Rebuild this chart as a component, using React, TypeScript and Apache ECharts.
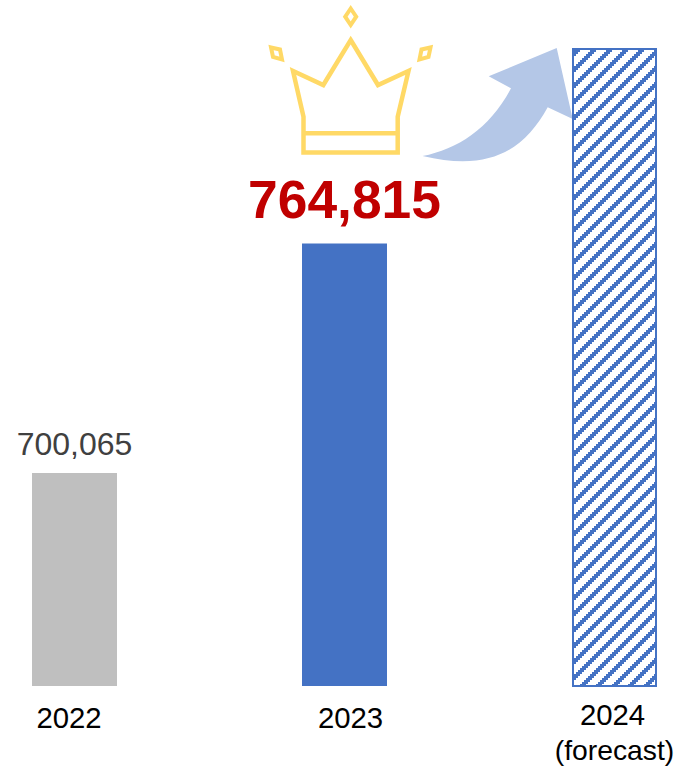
import React, { useEffect, useRef } from "react";
import * as echarts from "echarts";

const categories = ["2022", "2023", "2024\n(forecast)"];
const salesValues = [700065, 764815, 820000];
const axisMin = 640000;
const axisMax = 820000;

const GOLD = "#FFD966";
const ARROW = "#B4C7E7";
const BLUE = "#4472C4";
const FONT = '"Liberation Sans", Arial, sans-serif';

// Curved arrow rising from the crown towards the forecast bar.
const ARROW_PATH =
  "M422.5 156 C458 149 490 128 511 88.3 L488.7 76.3 L556.7 48 L572.7 119 L547.7 107.3 C524 150 490 172 422.5 156 Z";
echarts.graphic.registerShape("risingArrow", (echarts.graphic as any).extendPath(ARROW_PATH, {}));

// Diagonal staircase hatching used by the forecast bar.
function makeHatch(): HTMLCanvasElement {
  const size = 16;
  const block = 2;
  const canvas = document.createElement("canvas");
  canvas.width = size;
  canvas.height = size;
  const ctx = canvas.getContext("2d")!;
  ctx.fillStyle = "#FFFFFF";
  ctx.fillRect(0, 0, size, size);
  ctx.fillStyle = BLUE;
  const steps = size / block;
  for (let i = 0; i < steps; i++) {
    for (let j = 0; j < steps; j++) {
      if ((i + j) % steps < 3) ctx.fillRect(i * block, j * block, block, block);
    }
  }
  return canvas;
}

function crownGraphics() {
  const line = { stroke: GOLD, lineWidth: 4.5, fill: "none", lineJoin: "miter" as const };
  const thin = { stroke: GOLD, lineWidth: 4, fill: "none", lineJoin: "miter" as const };
  return [
    {
      type: "polygon",
      shape: {
        points: [
          [350.7, 40], [378, 85], [408.5, 71], [397.7, 116.7], [397.7, 152.5],
          [303.5, 152.5], [303.5, 116.7], [293, 71], [323.3, 85],
        ],
      },
      style: line,
    },
    { type: "line", shape: { x1: 303.5, y1: 133.3, x2: 397.7, y2: 133.3 }, style: line },
    {
      type: "polygon",
      shape: { points: [[350.7, 8.5], [356.2, 16.7], [350.7, 25], [345.2, 16.7]] },
      style: thin,
    },
    {
      type: "polygon",
      shape: { points: [[271, 47.5], [280, 49.5], [282, 59.5], [273, 57]] },
      style: thin,
    },
    {
      type: "polygon",
      shape: { points: [[430.5, 47.5], [428.5, 57], [419.5, 59.5], [421.5, 49.5]] },
      style: thin,
    },
    { type: "risingArrow", style: { fill: ARROW } },
  ];
}

export default function App() {
  const ref = useRef<HTMLDivElement>(null);

  useEffect(() => {
    const chart = echarts.init(ref.current!, undefined, { renderer: "svg" });
    chart.setOption({
      animation: false,
      backgroundColor: "#FFFFFF",
      grid: { left: -60.5, width: 810, top: 48, height: 638, outerBoundsMode: "none" },
      xAxis: {
        type: "category",
        data: categories,
        axisLine: { show: false },
        axisTick: { show: false },
        axisLabel: {
          interval: 0,
          margin: 10,
          hideOverlap: false,
          fontFamily: FONT,
          formatter: (value: string) => {
            if (value === categories[0]) return `{first|${value}}`;
            if (value === categories[1]) return `{second|${value}}`;
            const [year, note] = value.split("\n");
            return `{third|${year}}\n{note|${note}}`;
          },
          rich: {
            first: { fontSize: 29.33, fontFamily: FONT, color: "#000", lineHeight: 36, padding: [7, 11, 0, 0] },
            second: { fontSize: 29.33, fontFamily: FONT, color: "#000", lineHeight: 36, padding: [7, 0, 0, 12] },
            third: { fontSize: 29.33, fontFamily: FONT, color: "#000", lineHeight: 36, padding: [0, 4, 0, 0] },
            note: { fontSize: 28.3, fontFamily: FONT, color: "#000", lineHeight: 36 },
          },
        },
      },
      yAxis: { type: "value", min: axisMin, max: axisMax, show: false },
      series: [
        {
          type: "bar",
          barWidth: 85,
          data: [
            {
              value: salesValues[0],
              itemStyle: { color: "#BFBFBF" },
              label: {
                show: true,
                position: "top",
                distance: 13,
                fontSize: 32,
                fontFamily: FONT,
                color: "#404040",
                formatter: "700,065",
              },
            },
            {
              value: salesValues[1],
              itemStyle: { color: BLUE },
              label: {
                show: true,
                position: "top",
                distance: 18,
                fontSize: 53.33,
                fontWeight: "bold",
                fontFamily: FONT,
                color: "#C00000",
                formatter: "764,815",
              },
            },
            {
              value: salesValues[2],
              itemStyle: {
                color: { image: makeHatch(), repeat: "repeat" },
                borderColor: BLUE,
                borderWidth: 2,
              },
            },
          ],
        },
      ],
      graphic: crownGraphics(),
    });
    return () => chart.dispose();
  }, []);

  return <div ref={ref} style={{ position: "absolute", left: 0, top: 0, width: 674, height: 772 }} />;
}
